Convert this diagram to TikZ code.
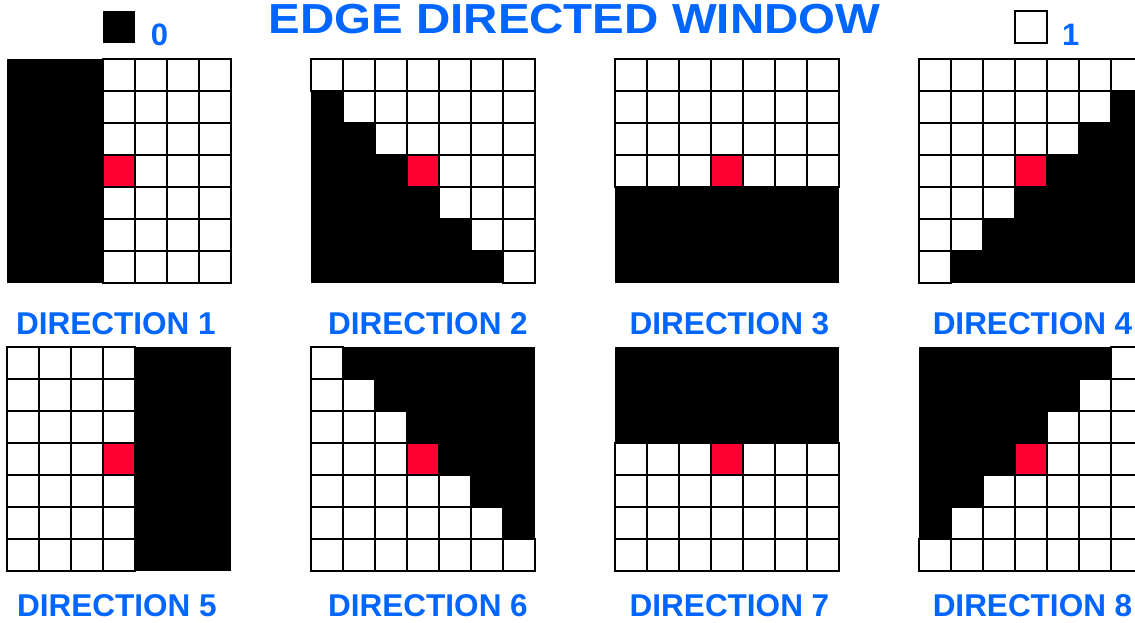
\documentclass[tikz,border=0pt]{standalone}
\usepackage{fontspec}
\setmainfont{Liberation Sans}
\definecolor{tblue}{RGB}{0,102,255}
\definecolor{cred}{RGB}{255,0,51}
\tikzset{
  cellbox/.style={draw=black, line width=2.6pt},
  lbl/.style={font=\bfseries\fontsize{31.5}{31.5}\selectfont, text=tblue, inner sep=0pt, text depth=0pt, anchor=base},
  keytext/.style={font=\bfseries\fontsize{31}{31}\selectfont, text=tblue, inner sep=0pt, anchor=base west},
}
% #1 x, #2 y, #3 condition on \c (column) and \r (row) giving black cells
\newcommand\edgegrid[3]{%
  \begin{scope}[shift={(#1,#2)}]
    \foreach \r in {0,...,6}{%
      \foreach \c in {0,...,6}{%
        \pgfmathtruncatemacro\isblack{#3}%
        \pgfmathtruncatemacro\iscenter{(\c==3)&&(\r==3)}%
        \ifnum\isblack=1
          \fill[black] (\c*32,\r*32) rectangle ++(32,32);
        \else
          \ifnum\iscenter=1
            \filldraw[cellbox, fill=cred] (\c*32,\r*32) rectangle ++(32,32);
          \else
            \filldraw[cellbox, fill=white] (\c*32,\r*32) rectangle ++(32,32);
          \fi
        \fi
      }%
    }%
  \end{scope}}
\begin{document}
\begin{tikzpicture}[x=1pt,y=-1pt]
  \useasboundingbox (0,0) rectangle (1135,622);
  \clip (0,0) rectangle (1135,622);
  \fill[white] (0,0) rectangle (1135,622);

  % title
  \node[font=\bfseries\fontsize{42}{42}\selectfont, text=tblue, inner sep=0pt, anchor=base]
    (title) at (574.5,33) {\scalebox{1.13}[1]{EDGE DIRECTED WINDOW}};

  % legend
  \fill[black] (103,11) rectangle (135,43);
  \node[keytext] (k0) at (150.7,45) {0};
  \draw[line width=2.4pt] (1015,11) rectangle (1047,43);
  \node[keytext] (k1) at (1062,45) {1};

  % grids, row 1
  \edgegrid{7}{59}{\c<3}
  \edgegrid{311}{59}{\c<\r}
  \edgegrid{615}{59}{\r>3}
  \edgegrid{919}{59}{\c+\r>6}
  % grids, row 2
  \edgegrid{7}{347}{\c>3}
  \edgegrid{311}{347}{\c>\r}
  \edgegrid{615}{347}{\r<3}
  \edgegrid{919}{347}{\c+\r<6}

  % labels
  \node[lbl] (d1) at (116,334) {DIRECTION 1};
  \node[lbl] (d2) at (428,334) {DIRECTION 2};
  \node[lbl] (d3) at (729.5,334) {DIRECTION 3};
  \node[lbl] (d4) at (1032.5,334) {DIRECTION 4};
  \node[lbl] (d5) at (117,616) {DIRECTION 5};
  \node[lbl] (d6) at (428,616) {DIRECTION 6};
  \node[lbl] (d7) at (729.5,616) {DIRECTION 7};
  \node[lbl] (d8) at (1032.5,616) {DIRECTION 8};
\end{tikzpicture}
\end{document}
